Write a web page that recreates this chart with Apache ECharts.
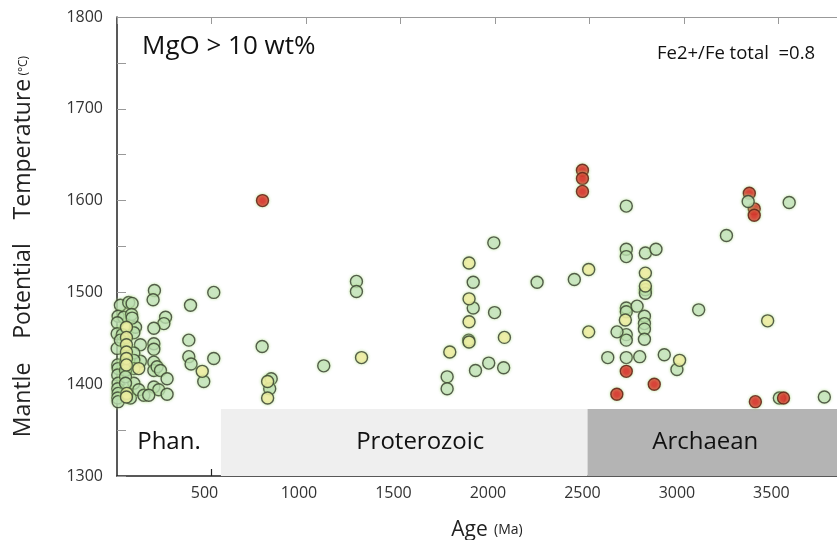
<!DOCTYPE html>
<html>
<head>
<meta charset="utf-8">
<script src="https://cdn.jsdelivr.net/npm/echarts@6/dist/echarts.min.js"></script>
<style>
  html, body { margin: 0; padding: 0; background: #fff; }
  #chart { width: 837px; height: 540px; }
</style>
</head>
<body>
<div id="chart"></div>
<script>
// [age (Ma), mantle potential temperature (°C)]
const greenPts = [
  [18, 1486], [62, 1489], [80, 1488], [6, 1474], [36, 1473], [2, 1467], [77, 1476], [98, 1462],
  [1, 1455], [28, 1454], [89, 1456], [1, 1439], [18, 1448], [80, 1472],
  [124, 1443], [124, 1425], [89, 1434], [89, 1426], [89, 1417], [89, 1401], [71, 1385], [115, 1394], [142, 1388],
  [4, 1421], [6, 1417], [4, 1410], [6, 1401], [4, 1395], [6, 1390], [4, 1385], [6, 1381],
  [45, 1423], [45, 1415], [45, 1408], [45, 1401],
  [198, 1502], [191, 1492], [257, 1473], [248, 1466], [195, 1461], [195, 1444], [195, 1438], [195, 1424],
  [195, 1415], [195, 1397], [212, 1419], [230, 1415], [221, 1394], [168, 1388], [265, 1406], [265, 1389],
  [389, 1486], [512, 1500], [380, 1448], [380, 1430], [392, 1422], [512, 1428], [459, 1403],
  [768, 1441], [816, 1406], [808, 1395], [1094, 1420], [1267, 1512], [1267, 1501],
  [1994, 1554], [1885, 1511], [2223, 1511], [2420, 1514], [1885, 1483], [1998, 1478], [1861, 1448],
  [1747, 1408], [1747, 1395], [1897, 1415], [1967, 1423], [2046, 1418],
  [2695, 1594], [3225, 1562], [3557, 1598], [2695, 1547], [2695, 1539], [2796, 1543], [2852, 1547],
  [2695, 1483], [2695, 1479], [2752, 1485], [2791, 1474], [2791, 1466], [2791, 1460], [2791, 1449],
  [2695, 1454], [2695, 1448], [2646, 1457], [3078, 1481], [2597, 1429], [2695, 1429], [2766, 1430],
  [2896, 1432], [2963, 1416], [2796, 1503], [2796, 1499], [3505, 1385], [3743, 1386]
];
const yellowPts = [
  [50, 1462], [50, 1451], [50, 1443], [50, 1435], [50, 1428], [50, 1421], [52, 1390], [50, 1386],
  [115, 1417], [451, 1414],
  [797, 1403], [797, 1385], [1294, 1429], [1863, 1532], [1863, 1493], [1863, 1468], [1863, 1446],
  [2050, 1451], [1761, 1435],
  [2496, 1525], [2796, 1521], [2796, 1507], [2690, 1470], [2496, 1457], [2977, 1426], [3443, 1469]
];
const redPts = [
  [770, 1600], [2463, 1633], [2463, 1624], [2463, 1610], [3346, 1608], [3372, 1591], [3372, 1584],
  [2695, 1414], [2843, 1400], [2645, 1389], [3378, 1381], [3527, 1385]
];
const greenTop = [[3340, 1599]];

// geological eons along the bottom of the plot
const eraNames = ['Phan.', 'Proterozoic', 'Archaean'];
const eraStart = [0, 550, 2490];
const eraEnd = [550, 2490, 3810];

const FONT = 'Open Sans, Noto Sans, sans-serif';
const ERA_FILL = ['rgba(0,0,0,0)', '#efefef', '#b4b4b4'];
const ERA_SHIFT = [0, 16, -7];
const Y_MAX = 1800;

const chart = echarts.init(document.getElementById('chart'));

const scatter = (name, data, fill, border) => ({
  name,
  type: 'scatter',
  data,
  symbolSize: 12,
  silent: true,
  itemStyle: {
    color: fill,
    borderColor: border,
    borderWidth: 1.4,
    shadowBlur: 3,
    shadowColor: 'rgba(170,220,130,0.9)',
  },
});

chart.setOption({
  animation: false,
  textStyle: { fontFamily: FONT },
  graphic: [
    {
      type: 'text', left: 142, top: 34,
      style: { text: 'MgO > 10 wt%', font: '26px ' + FONT, fill: '#111' },
    },
    {
      type: 'text', left: 657, top: 44,
      style: { text: 'Fe2+/Fe total  =0.8', font: '18.5px ' + FONT, fill: '#111' },
    },
  ],
  grid: {
    left: 117, right: 0, top: 17, bottom: 64,
    containLabel: false,
    outerBoundsMode: 'none',
  },
  xAxis: [
    {
      type: 'value',
      position: 'bottom',
      min: 0,
      max: 3810,
      interval: 500,
      name: '{a|Age}  {b|(Ma)}',
      nameLocation: 'middle',
      nameGap: 44,
      nameTextStyle: {
        padding: [0, 0, 0, 20],
        rich: {
          a: { fontSize: 21, color: '#222', fontFamily: FONT },
          b: { fontSize: 14, color: '#222', fontFamily: FONT },
        },
      },
      axisLine: { onZero: false, lineStyle: { color: '#222', width: 1.5 } },
      axisTick: { inside: true, length: 7, lineStyle: { color: '#222', width: 1.2 } },
      axisLabel: {
        fontSize: 16, color: '#333', margin: 9,
        showMinLabel: false, showMaxLabel: false,
        padding: [0, 14, 0, 0],
        formatter: (v) => String(v),
      },
      splitLine: { show: false },
    },
    {
      type: 'value',
      position: 'top',
      min: 0,
      max: 3810,
      interval: 500,
      axisLine: { show: true, onZero: false, lineStyle: { color: '#999', width: 1.2 } },
      axisTick: { show: true, inside: true, length: 7, lineStyle: { color: '#999' } },
      axisLabel: { show: false },
      splitLine: { show: false },
    },
  ],
  yAxis: {
    type: 'value',
    min: 1300,
    max: Y_MAX,
    interval: 50,
    name: '{a|Mantle    Potential    Temperature} {b|(°C)}',
    nameLocation: 'middle',
    nameGap: 82,
    nameRotate: 90,
    nameTextStyle: {
      rich: {
        a: { fontSize: 23, color: '#222', fontFamily: FONT },
        b: { fontSize: 12, color: '#222', fontFamily: FONT },
      },
    },
    axisLine: { show: true, onZero: false, lineStyle: { color: '#222', width: 1.5 } },
    axisTick: { show: true, inside: true, length: 9, lineStyle: { color: '#999' } },
    axisLabel: {
      fontSize: 16, color: '#333', margin: 14,
      formatter: (v) => (v % 100 === 0 ? String(v) : ''),
    },
    splitLine: { show: false },
  },
  series: [
    {
      type: 'scatter',
      xAxisIndex: 1,
      data: [],
      silent: true,
      markLine: {
        silent: true,
        symbol: 'none',
        label: { show: false },
        lineStyle: { color: '#999', width: 1.2, type: 'solid' },
        data: [{ yAxis: Y_MAX }],
      },
      markArea: {
        silent: true,
        data: eraNames.map((n, i) => [
          {
            name: n,
            xAxis: eraStart[i],
            yAxis: 1300,
            itemStyle: { color: ERA_FILL[i] },
            label: { offset: [ERA_SHIFT[i], 0] },
          },
          { xAxis: eraEnd[i], yAxis: 1373 },
        ]),
        label: {
          show: true,
          position: 'inside',
          fontSize: 24,
          color: '#111',
          fontFamily: FONT,
        },
      },
    },
    scatter('green', greenPts, 'rgba(196,226,198,0.72)', '#333a2c'),
    scatter('red', redPts, '#e01a1e', '#5a1810'),
    scatter('greenTop', greenTop, 'rgba(196,226,198,0.9)', '#333a2c'),
    scatter('yellow', yellowPts, 'rgba(253,241,168,0.95)', '#333a2c'),
  ],
});
</script>
</body>
</html>
